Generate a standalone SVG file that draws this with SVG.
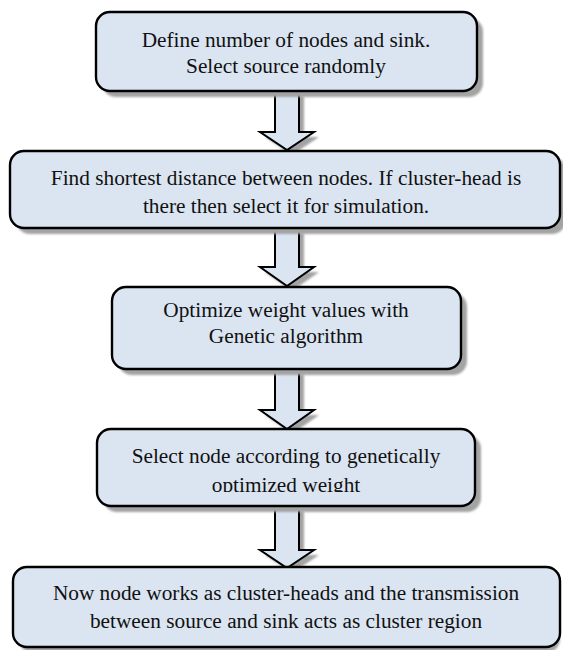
<svg xmlns="http://www.w3.org/2000/svg" width="563" height="650" viewBox="0 0 563 650">
  <defs>
    <style>
      .box { fill: #dbe5f1; stroke: #000; stroke-width: 2.4; }
      .shadow { fill: #a3a3a3; }
      .arrow { fill: #dbe5f1; stroke: #000; stroke-width: 2; stroke-linejoin: miter; }
      .label { font-size: 21.3px; fill: #111; text-anchor: middle; }
    </style>
    <filter id="soft" x="-5%" y="-10%" width="110%" height="130%">
      <feGaussianBlur stdDeviation="1"/>
    </filter>
    <!-- text area of step 4 cuts off the descenders of its second line -->
    <clipPath id="clip4">
      <rect x="97" y="429" width="378" height="63"/>
    </clipPath>
  </defs>

  <!-- connectors: block arrows between steps -->
  <g id="connectors">
    <g id="arrow1">
      <path class="shadow" filter="url(#soft)" d="M280,96 H304 V137 H319 L292,155 L265,137 H280 Z"/>
      <path class="arrow" d="M275,91 H299 V132 H314 L287,150 L260,132 H275 Z"/>
    </g>
    <g id="arrow2">
      <path class="shadow" filter="url(#soft)" d="M280,233 H304 V272 H319 L292,291 L265,272 H280 Z"/>
      <path class="arrow" d="M275,228 H299 V267 H314 L287,286 L260,267 H275 Z"/>
    </g>
    <g id="arrow3">
      <path class="shadow" filter="url(#soft)" d="M280,374 H304 V415 H319 L292,434 L265,415 H280 Z"/>
      <path class="arrow" d="M275,369 H299 V410 H314 L287,429 L260,410 H275 Z"/>
    </g>
    <g id="arrow4">
      <path class="shadow" filter="url(#soft)" d="M280,511 H304 V555 H319 L292,573 L265,555 H280 Z"/>
      <path class="arrow" d="M275,506 H299 V550 H314 L287,568 L260,550 H275 Z"/>
    </g>
  </g>

  <!-- step 1 -->
  <g id="node1" font-family="'Liberation Serif', 'Times New Roman', serif">
    <rect class="shadow" filter="url(#soft)" x="102" y="18" width="381" height="79" rx="14"/>
    <rect class="box" x="96" y="12" width="381" height="79" rx="14"/>
    <text class="label" x="286" y="47">Define number of nodes and sink.</text>
    <text class="label" x="286" y="73">Select source randomly</text>
  </g>

  <!-- step 2 -->
  <g id="node2" font-family="'Liberation Serif', 'Times New Roman', serif">
    <rect class="shadow" filter="url(#soft)" x="16" y="157" width="550" height="77" rx="14"/>
    <rect class="box" x="10" y="151" width="550" height="77" rx="14"/>
    <text class="label" x="286" y="185">Find shortest distance between nodes. If cluster-head is</text>
    <text class="label" x="286" y="213">there then select it for simulation.</text>
  </g>

  <!-- step 3 -->
  <g id="node3" font-family="'Liberation Serif', 'Times New Roman', serif">
    <rect class="shadow" filter="url(#soft)" x="118" y="293" width="349" height="82" rx="14"/>
    <rect class="box" x="112" y="287" width="349" height="82" rx="14"/>
    <text class="label" x="286" y="317">Optimize weight values with</text>
    <text class="label" x="286" y="343">Genetic algorithm</text>
  </g>

  <!-- step 4 -->
  <g id="node4" font-family="'Liberation Serif', 'Times New Roman', serif">
    <rect class="shadow" filter="url(#soft)" x="103" y="435" width="378" height="77" rx="14"/>
    <rect class="box" x="97" y="429" width="378" height="77" rx="14"/>
    <g clip-path="url(#clip4)">
      <text class="label" x="286" y="463">Select node according to genetically</text>
      <text class="label" x="286" y="492">optimized weight</text>
    </g>
  </g>

  <!-- step 5 -->
  <g id="node5" font-family="'Liberation Serif', 'Times New Roman', serif">
    <rect class="shadow" filter="url(#soft)" x="19" y="573" width="541" height="80" rx="14"/>
    <rect class="box" x="13" y="567" width="547" height="80" rx="14"/>
    <text class="label" x="286" y="600">Now node works as cluster-heads and the transmission</text>
    <text class="label" x="286" y="628">between source and sink acts as cluster region</text>
  </g>
</svg>
